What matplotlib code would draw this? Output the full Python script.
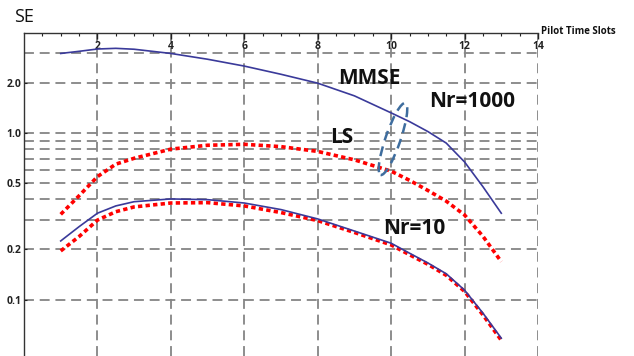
import matplotlib
matplotlib.use("Agg")
import matplotlib.pyplot as plt
from matplotlib.patches import Ellipse
from matplotlib.ticker import FixedLocator, NullFormatter

plt.rcParams['font.family'] = ['Open Sans', 'DejaVu Sans']

# ---- data ----
pilot_slots = [1, 1.5, 2, 2.5, 3, 4, 5, 6, 7, 8, 9, 10, 10.5, 11, 11.5, 12, 12.5, 13]
mmse_nr1000 = [3.0, 3.09, 3.19, 3.22, 3.18, 3.0, 2.77, 2.52, 2.25, 1.99, 1.67, 1.32,
               1.17, 1.02, 0.87, 0.67, 0.476, 0.33]
ls_nr1000 = [0.325, 0.42, 0.547, 0.65, 0.705, 0.80, 0.844, 0.855, 0.828, 0.775, 0.69,
             0.59, 0.52, 0.452, 0.39, 0.322, 0.24, 0.169]
mmse_nr10 = [0.225, 0.274, 0.33, 0.365, 0.387, 0.402, 0.398, 0.38, 0.347, 0.305, 0.258,
             0.218, 0.19, 0.166, 0.143, 0.114, 0.083, 0.0587]
ls_nr10 = [0.196, 0.239, 0.30, 0.337, 0.36, 0.38, 0.382, 0.365, 0.333, 0.298, 0.253,
           0.213, 0.186, 0.163, 0.14, 0.112, 0.081, 0.057]

x_ticks = [2, 4, 6, 8, 10, 12, 14]
x_minor = [0.5 * i for i in range(1, 28) if i % 4 != 0]
y_ticks = [0.1, 0.2, 0.5, 1.0, 2.0]
y_tick_labels = ['0.1', '0.2', '0.5', '1.0', '2.0']
y_grid = [0.1, 0.2, 0.3, 0.4, 0.5, 0.6, 0.7, 0.8, 0.9, 1.0, 2.0, 3.0]

W, H = 634, 356
fig = plt.figure(figsize=(W / 100, H / 100), dpi=100)
ax = fig.add_axes([24 / W, 0, (538 - 24) / W, (H - 33) / H])

ax.set_yscale('log')
ax.set_xlim(0, 14)
ax.set_ylim(0.0459, 3.98)

grid_kw = dict(color='#858585', lw=1.3, dashes=(5.5, 3.2), zorder=1)
for g in y_grid:
    ax.axhline(g, **grid_kw)
for g in x_ticks:
    ax.axvline(g, **grid_kw)

blue = '#3a3a9a'
red = '#ff0000'
ax.plot(pilot_slots, mmse_nr1000, color=blue, lw=1.2, zorder=3)
ax.plot(pilot_slots, ls_nr1000, color=red, lw=2.6, dashes=(1.2, 0.9), zorder=3)
ax.plot(pilot_slots, mmse_nr10, color=blue, lw=1.2, zorder=3)
ax.plot(pilot_slots, ls_nr10, color=red, lw=2.6, dashes=(1.2, 0.9), zorder=2)

# spines
for s in ['right', 'bottom']:
    ax.spines[s].set_visible(False)
for s in ['top', 'left']:
    ax.spines[s].set_linewidth(1.0)
    ax.spines[s].set_color('#333333')

# x axis on top, labels under the line
ax.xaxis.tick_top()
ax.set_xticks(x_ticks)
ax.set_xticklabels([str(v) for v in x_ticks], fontweight='bold', fontsize=7.5)
ax.xaxis.set_minor_locator(FixedLocator(x_minor))
ax.tick_params(axis='x', which='major', direction='in', length=4, width=1, pad=-14,
               colors='#222222')
ax.tick_params(axis='x', which='minor', direction='in', length=2, width=0.8,
               colors='#222222')

ax.set_yticks(y_ticks)
ax.set_yticklabels(y_tick_labels, fontweight='bold', fontsize=7.5)
ax.yaxis.set_minor_locator(FixedLocator([]))
ax.yaxis.set_minor_formatter(NullFormatter())
ax.tick_params(axis='y', which='major', direction='in', length=2, width=0.8, pad=2,
               colors='#222222')

fig.text(541 / W, 1 - 31 / H, 'Pilot Time Slots', fontsize=7, fontweight='bold',
         ha='left', va='center', color='#111111')
fig.text(14 / W, 1 - 17 / H, 'SE', fontsize=13, ha='left', va='center', color='#111111')

ann_kw = dict(fontsize=15, fontweight='bold', ha='center', va='center', color='#111111',
              transform=fig.transFigure, zorder=5)
fig.text(369 / W, 1 - 79 / H, 'MMSE', **ann_kw)
fig.text(472 / W, 1 - 102 / H, 'Nr=1000', **ann_kw)
fig.text(342 / W, 1 - 138 / H, 'LS', **ann_kw)
fig.text(414 / W, 1 - 228 / H, 'Nr=10', **ann_kw)

ell = Ellipse((3.93, (H - 139) / 100), width=0.15, height=0.76, angle=-19,
              transform=fig.dpi_scale_trans, fill=False, edgecolor='#3e6d9e',
              lw=1.8, linestyle=(0, (4, 2.5)), zorder=6)
fig.add_artist(ell)

fig.savefig('out.png', dpi=100)
